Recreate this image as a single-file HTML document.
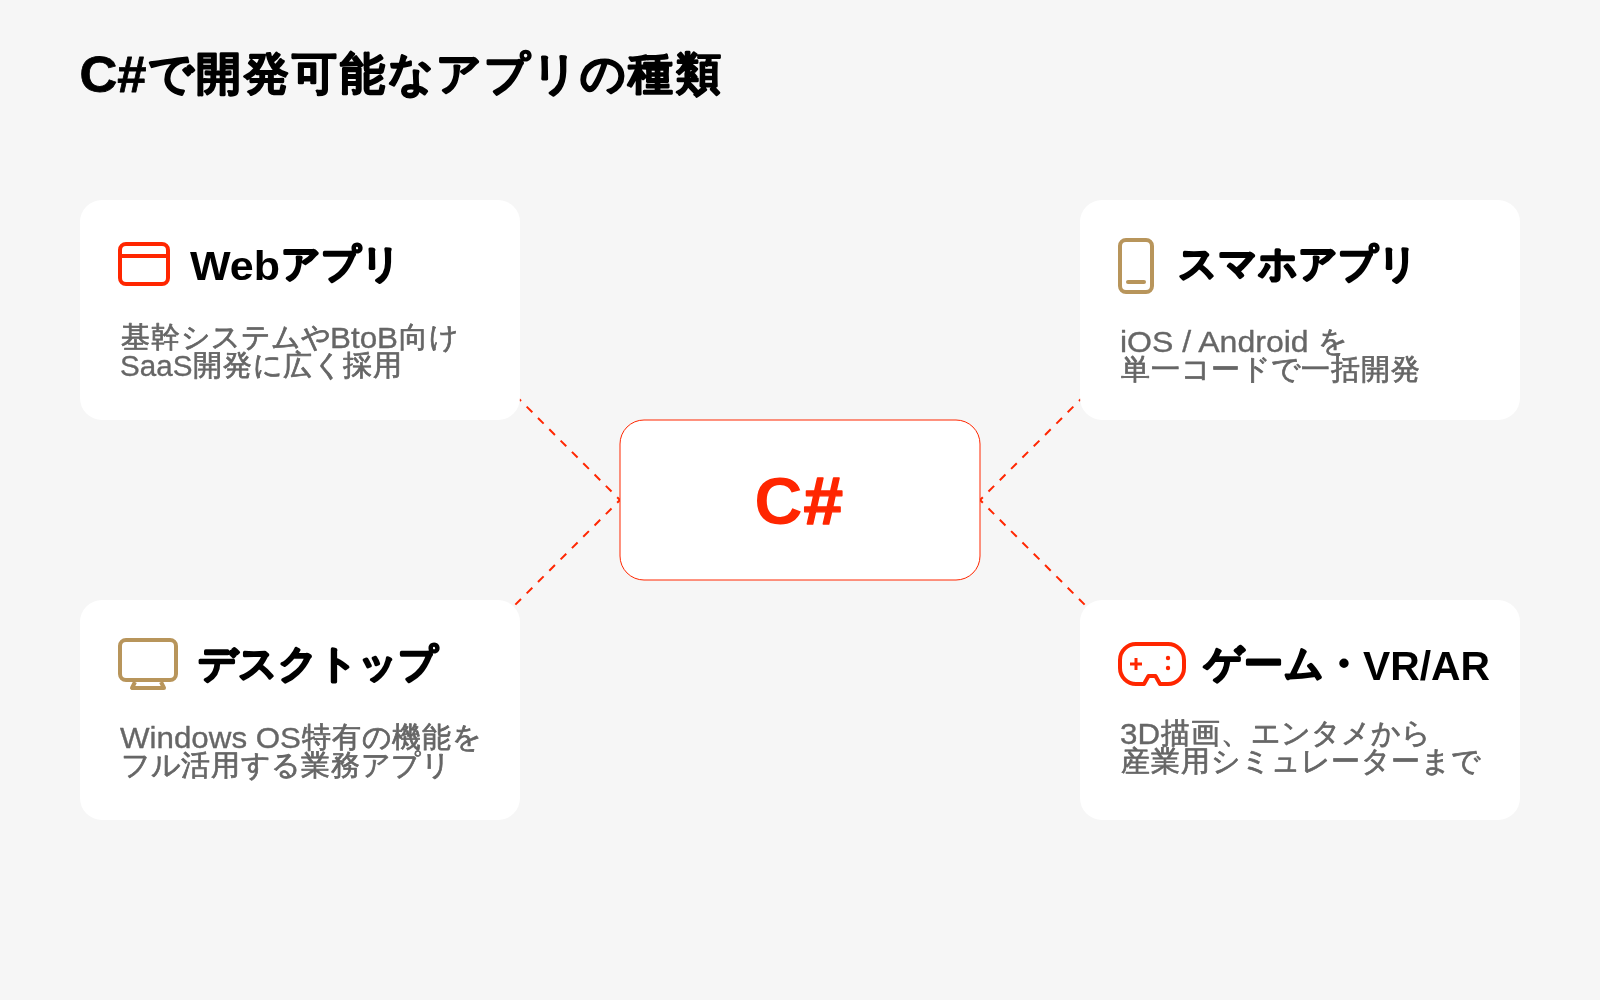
<!DOCTYPE html>
<html lang="ja">
<head>
<meta charset="utf-8">
<title>C#で開発可能なアプリの種類</title>
<style>
html,body{margin:0;padding:0;}
body{width:1600px;height:1000px;background:#f6f6f6;overflow:hidden;font-family:"Liberation Sans",sans-serif;}
svg{display:block;will-change:transform;}
text{font-family:"Liberation Sans",sans-serif;}
.h{font-size:48px;font-weight:700;fill:#000;}
.h .l{font-size:50px;stroke:#000;stroke-width:0.8px;}
.h .k{font-size:45px;}
.t{font-size:40px;font-weight:700;fill:#000;}
.b{font-size:30px;fill:#666666;}
.c{font-size:67px;font-weight:700;fill:#ff2600;}
text{stroke-linejoin:round;}
.c .hs{stroke:#ff2600;stroke-width:1.4px;}
.h .k{stroke:#000;stroke-width:1.5px;}
.t .k{stroke:#000;stroke-width:2px;font-size:39px;}
.b .k{stroke:#666666;stroke-width:0.75px;font-size:29px;}
.b .l{stroke:#666666;stroke-width:0.35px;}
</style>
</head>
<body>
<svg width="1600" height="1000" viewBox="0 0 1600 1000">
  <rect x="0" y="0" width="1600" height="1000" fill="#f6f6f6"/>

  <g stroke="#ff2600" stroke-width="2" stroke-dasharray="8 8" stroke-dashoffset="4" fill="none">
    <line x1="620" y1="500" x2="500" y2="380"/>
    <line x1="620" y1="500" x2="500" y2="620"/>
    <line x1="980" y1="500" x2="1100" y2="380"/>
    <line x1="980" y1="500" x2="1100" y2="620"/>
  </g>

  <g fill="#fff">
    <rect x="80" y="200" width="440" height="220" rx="22"/>
    <rect x="1080" y="200" width="440" height="220" rx="22"/>
    <rect x="80" y="600" width="440" height="220" rx="22"/>
    <rect x="1080" y="600" width="440" height="220" rx="22"/>
  </g>

  <rect x="620" y="420" width="360" height="160" rx="24" fill="#fff" stroke="#ff2600" stroke-width="1"/>
  <text class="c"><tspan class="l" y="523.5" x="754.3">C</tspan><tspan class="l hs" y="523.5" x="803.5" textLength="39.5" lengthAdjust="spacingAndGlyphs">#</tspan></text>

  <g fill="none" stroke="#ff2600" stroke-width="4">
    <rect x="120" y="244" width="48" height="40" rx="6"/>
    <line x1="120" y1="256" x2="168" y2="256"/>
  </g>
  <g fill="none" stroke="#b8955b" stroke-width="4" stroke-linecap="round">
    <rect x="1120" y="240" width="32" height="52" rx="6"/>
    <line x1="1128" y1="282" x2="1144" y2="282"/>
  </g>
  <g fill="none" stroke="#b8955b" stroke-width="4" stroke-linejoin="round">
    <rect x="120" y="640" width="56" height="40" rx="6"/>
    <path d="M135 682 L132 688 L164 688 L161 682"/>
  </g>
  <g fill="none" stroke="#ff2600" stroke-width="4" stroke-linejoin="round">
    <path d="M1136 644 H1168 A16 16 0 0 1 1184 660 V668 A16 16 0 0 1 1168 684 H1160 L1155.5 676 H1148.5 L1144 684 H1136 A16 16 0 0 1 1120 668 V660 A16 16 0 0 1 1136 644 Z"/>
  </g>
  <g stroke="#ff2600" stroke-width="3">
    <line x1="1130" y1="664" x2="1142" y2="664"/>
    <line x1="1136" y1="658" x2="1136" y2="670"/>
  </g>
  <circle cx="1168" cy="658" r="2.2" fill="#ff2600"/>
  <circle cx="1168" cy="668" r="2.2" fill="#ff2600"/>

  <text class="h"><tspan class="l" y="91.6" x="79.5" textLength="67" lengthAdjust="spacingAndGlyphs">C#</tspan><tspan class="k" y="89" x="148 196 244 292 340 388 436 484 532 580 628 676">で開発可能なアプリの種類</tspan></text>
  <text class="t"><tspan class="l" y="280" x="190" textLength="90" lengthAdjust="spacingAndGlyphs">Web</tspan><tspan class="k" y="277" x="280.5 320.5 360.5">アプリ</tspan></text>
  <text class="t"><tspan class="k" y="277" x="1178 1218 1258 1298 1338 1378">スマホアプリ</tspan></text>
  <text class="t"><tspan class="k" y="677" x="197.8 237.8 277.8 317.8 357.8 397.8">デスクトップ</tspan></text>
  <text class="t"><tspan class="k" y="677" x="1203.5 1243.5 1283.5 1323.5">ゲーム・</tspan><tspan class="l" y="680" x="1363" textLength="127" lengthAdjust="spacingAndGlyphs">VR/AR</tspan></text>
  <text class="b"><tspan class="k" y="347" x="120.5 150.5 180.5 210.5 240.5 270.5 300.5">基幹システムや</tspan><tspan class="l" y="348" x="330" textLength="68" lengthAdjust="spacingAndGlyphs">BtoB</tspan><tspan class="k" y="347" x="398.5 428.5">向け</tspan></text>
  <text class="b"><tspan class="l" y="376" x="120" textLength="72.4" lengthAdjust="spacingAndGlyphs">SaaS</tspan><tspan class="k" y="375" x="192.9 222.9 252.9 282.9 312.9 342.9 372.9">開発に広く採用</tspan></text>
  <text class="b"><tspan class="l" y="352" x="1120" textLength="197.5" lengthAdjust="spacingAndGlyphs">iOS / Android </tspan><tspan class="k" y="351" x="1318">を</tspan></text>
  <text class="b"><tspan class="k" y="379" x="1120.5 1150.5 1180.5 1210.5 1240.5 1270.5 1300.5 1330.5 1360.5 1390.5">単一コードで一括開発</tspan></text>
  <text class="b"><tspan class="l" y="748" x="120" textLength="181" lengthAdjust="spacingAndGlyphs">Windows OS</tspan><tspan class="k" y="747" x="301.5 331.5 361.5 391.5 421.5 451.5">特有の機能を</tspan></text>
  <text class="b"><tspan class="k" y="775" x="120.5 150.5 180.5 210.5 240.5 270.5 300.5 330.5 360.5 390.5 420.5">フル活用する業務アプリ</tspan></text>
  <text class="b"><tspan class="l" y="744" x="1120" textLength="40" lengthAdjust="spacingAndGlyphs">3D</tspan><tspan class="k" y="743" x="1160.5 1190.5 1220.5 1250.5 1280.5 1310.5 1340.5 1370.5 1400.5">描画、エンタメから</tspan></text>
  <text class="b"><tspan class="k" y="771" x="1120.5 1150.5 1180.5 1210.5 1240.5 1270.5 1300.5 1330.5 1360.5 1390.5 1420.5 1450.5">産業用シミュレーターまで</tspan></text>
</svg>
</body>
</html>
